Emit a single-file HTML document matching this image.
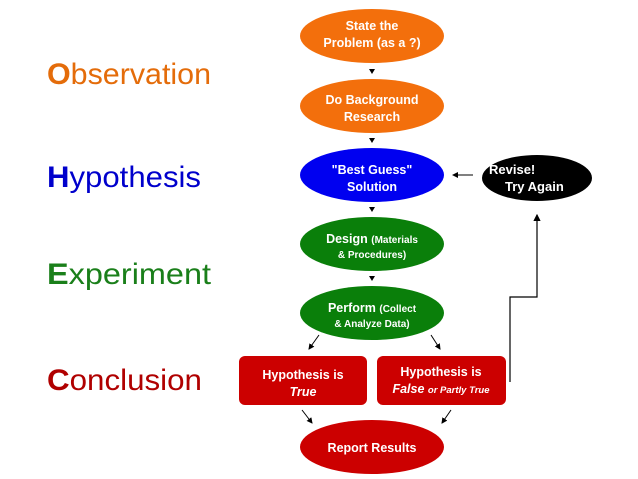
<!DOCTYPE html>
<html><head><meta charset="utf-8"><style>
html,body{margin:0;padding:0;background:#fff;width:638px;height:479px;overflow:hidden}
svg{display:block}
.l{font-family:"Liberation Sans",sans-serif;font-size:30px}
.n{font-family:"Liberation Sans",sans-serif;font-weight:bold;font-size:12.5px;fill:#fff;text-anchor:middle}
.s{font-size:10px}
</style></head><body>
<svg width="638" height="479" viewBox="0 0 638 479">
<defs><marker id="a" markerWidth="6" markerHeight="6" refX="5" refY="3" orient="auto"><path d="M0,0L6,3L0,6z" fill="#000"/></marker></defs>
<text class="l" x="47" y="84" fill="#E46C0A" textLength="164" lengthAdjust="spacingAndGlyphs"><tspan font-weight="bold">O</tspan>bservation</text>
<text class="l" x="47" y="187" fill="#0000CC" textLength="154" lengthAdjust="spacingAndGlyphs"><tspan font-weight="bold">H</tspan>ypothesis</text>
<text class="l" x="47" y="284" fill="#1A7F1A" textLength="164" lengthAdjust="spacingAndGlyphs"><tspan font-weight="bold">E</tspan>xperiment</text>
<text class="l" x="47" y="390" fill="#B00000" textLength="155" lengthAdjust="spacingAndGlyphs"><tspan font-weight="bold">C</tspan>onclusion</text>

<ellipse cx="372" cy="36" rx="72" ry="27" fill="#F36F0C"/>
<text class="n" x="372" y="30">State the</text><text class="n" x="372" y="47">Problem (as a ?)</text>
<path d="M369,69h6l-3,5z" fill="#000"/>
<ellipse cx="372" cy="106" rx="72" ry="27" fill="#F36F0C"/>
<text class="n" x="372" y="104">Do Background</text><text class="n" x="372" y="121">Research</text>
<path d="M369,138h6l-3,5z" fill="#000"/>
<ellipse cx="372" cy="175" rx="72" ry="27" fill="#0000F0"/>
<text class="n" x="372" y="174">"Best Guess"</text><text class="n" x="372" y="191">Solution</text>
<path d="M369,207h6l-3,5z" fill="#000"/>
<ellipse cx="372" cy="244" rx="72" ry="27" fill="#0A7F0A"/>
<text class="n" x="372" y="243">Design <tspan class="s">(Materials</tspan></text><text class="n s" x="372" y="258">&amp; Procedures)</text>
<path d="M369,276h6l-3,5z" fill="#000"/>
<ellipse cx="372" cy="313" rx="72" ry="27" fill="#0A7F0A"/>
<text class="n" x="372" y="312">Perform <tspan class="s">(Collect</tspan></text><text class="n s" x="372" y="327">&amp; Analyze Data)</text>

<line x1="319" y1="335" x2="309" y2="349" stroke="#000" marker-end="url(#a)"/>
<line x1="431" y1="335" x2="440" y2="349" stroke="#000" marker-end="url(#a)"/>

<rect x="239" y="356" width="128" height="49" rx="6" fill="#CC0000"/>
<text class="n" x="303" y="379">Hypothesis is</text><text class="n" x="303" y="396" font-style="italic">True</text>
<rect x="377" y="356" width="129" height="49" rx="6" fill="#CC0000"/>
<text class="n" x="441" y="376">Hypothesis is</text><text class="n" x="441" y="393" font-style="italic">False <tspan font-size="9.5px">or Partly True</tspan></text>

<line x1="302" y1="410" x2="312" y2="423" stroke="#000" marker-end="url(#a)"/>
<line x1="451" y1="410" x2="442" y2="423" stroke="#000" marker-end="url(#a)"/>
<ellipse cx="372" cy="447" rx="72" ry="27" fill="#CC0000"/>
<text class="n" x="372" y="452">Report Results</text>

<ellipse cx="537" cy="178" rx="55" ry="23" fill="#000"/>
<text class="n" x="489" y="174" style="text-anchor:start;font-size:13px">Revise!</text>
<text class="n" x="505" y="191" style="text-anchor:start;font-size:13px">Try Again</text>
<line x1="473" y1="175" x2="453" y2="175" stroke="#000" marker-end="url(#a)"/>
<polyline points="510,382 510,297 537,297 537,215" fill="none" stroke="#000" stroke-width="1.2" marker-end="url(#a)"/>
</svg>
</body></html>
